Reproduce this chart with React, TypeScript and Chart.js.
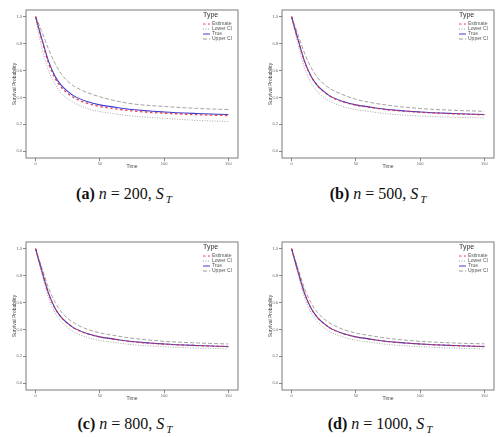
import { useEffect, useRef } from "react"
import { Chart, registerables } from "chart.js"

Chart.register(...registerables)

// time grid the curves were read at
const timePoints = [0, 2, 5, 10, 15, 20, 25, 30, 40, 50, 60, 75, 100, 125, 150]
const xTicks = [0, 50, 100, 150]
const yTicks = [0, 0.2, 0.4, 0.6, 0.8, 1.0]

const trueSurv = [1.0, 0.93, 0.83, 0.67, 0.56, 0.49, 0.445, 0.41, 0.37, 0.345, 0.33, 0.31, 0.292, 0.281, 0.273]

// (a) n = 200
const estA = [1.0, 0.925, 0.82, 0.655, 0.545, 0.475, 0.43, 0.397, 0.357, 0.333, 0.318, 0.3, 0.283, 0.272, 0.265]
const lowerA = [1.0, 0.89, 0.76, 0.6, 0.5, 0.43, 0.39, 0.36, 0.318, 0.295, 0.28, 0.262, 0.245, 0.23, 0.221]
const upperA = [1.0, 0.955, 0.885, 0.76, 0.655, 0.575, 0.52, 0.483, 0.437, 0.405, 0.38, 0.353, 0.333, 0.319, 0.31]

// (b) n = 500
const estB = [1.0, 0.928, 0.828, 0.668, 0.558, 0.488, 0.443, 0.408, 0.368, 0.343, 0.328, 0.308, 0.29, 0.279, 0.272]
const lowerB = [1.0, 0.91, 0.79, 0.62, 0.51, 0.445, 0.4, 0.37, 0.332, 0.31, 0.296, 0.278, 0.262, 0.253, 0.248]
const upperB = [1.0, 0.945, 0.865, 0.73, 0.625, 0.55, 0.5, 0.465, 0.42, 0.386, 0.365, 0.342, 0.318, 0.305, 0.297]

// (c) n = 800
const estC = [1.0, 0.929, 0.829, 0.668, 0.558, 0.489, 0.444, 0.409, 0.369, 0.344, 0.329, 0.309, 0.291, 0.28, 0.273]
const lowerC = [1.0, 0.918, 0.805, 0.635, 0.525, 0.458, 0.413, 0.38, 0.342, 0.318, 0.305, 0.287, 0.272, 0.262, 0.256]
const upperC = [1.0, 0.94, 0.855, 0.71, 0.605, 0.53, 0.482, 0.448, 0.402, 0.375, 0.357, 0.335, 0.312, 0.3, 0.292]

// (d) n = 1000
const estD = [1.0, 0.93, 0.83, 0.67, 0.56, 0.49, 0.445, 0.41, 0.37, 0.345, 0.33, 0.31, 0.292, 0.281, 0.273]
const lowerD = [1.0, 0.92, 0.808, 0.638, 0.528, 0.46, 0.415, 0.382, 0.344, 0.32, 0.306, 0.288, 0.272, 0.262, 0.255]
const upperD = [1.0, 0.94, 0.853, 0.705, 0.6, 0.527, 0.48, 0.446, 0.4, 0.373, 0.356, 0.334, 0.312, 0.3, 0.293]

const legendTitle = "Type"
const font = "'Liberation Sans', Arial, sans-serif"

const toPoints = (ys: number[]) => timePoints.map((t, i) => ({ x: t, y: ys[i] }))

// grey panel border drawn over the lines
const boxPlugin = {
  id: "panelBox",
  afterDatasetsDraw(chart: any) {
    const { ctx, chartArea } = chart
    ctx.save()
    ctx.strokeStyle = "#7a7a7a"
    ctx.lineWidth = 1
    ctx.strokeRect(chartArea.left, chartArea.top, chartArea.right - chartArea.left, chartArea.bottom - chartArea.top)
    ctx.restore()
  },
}

// ggplot style legend sitting inside the top right of the panel
const typeLegend = {
  id: "typeLegend",
  afterDraw(chart: any) {
    const { ctx, chartArea } = chart
    const x0 = chartArea.right - 35
    const y0 = chartArea.top + 5
    ctx.save()
    ctx.textBaseline = "middle"
    ctx.fillStyle = "#333"
    ctx.font = `7px ${font}`
    ctx.fillText(legendTitle, x0, y0)
    ctx.font = `5px ${font}`
    const items = [...chart.data.datasets].sort((a: any, b: any) => a.legendIndex - b.legendIndex)
    items.forEach((ds: any, i: number) => {
      const y = y0 + 9 + i * 5
      ctx.strokeStyle = ds.borderColor
      ctx.lineWidth = 1
      ctx.setLineDash(ds.borderDash || [])
      ctx.beginPath()
      ctx.moveTo(x0, y)
      ctx.lineTo(x0 + 7, y)
      ctx.stroke()
      ctx.setLineDash([])
      ctx.fillStyle = "#555"
      ctx.fillText(ds.label, x0 + 9, y)
    })
    ctx.restore()
  },
}

type PanelProps = {
  left: number
  top: number
  width: number
  padRight: number
  est: number[]
  lower: number[]
  upper: number[]
}

function SurvivalPanel({ left, top, width, padRight, est, lower, upper }: PanelProps) {
  const canvasRef = useRef<HTMLCanvasElement>(null)
  const chartRef = useRef<Chart | null>(null)

  useEffect(() => {
    if (!canvasRef.current) return
    if (chartRef.current) chartRef.current.destroy()

    chartRef.current = new Chart(canvasRef.current, {
      type: "line",
      data: {
        datasets: [
          {
            label: "Estimate",
            data: toPoints(est),
            borderColor: "rgba(225, 40, 50, 0.85)",
            borderWidth: 1.3,
            borderDash: [2.5, 2.5],
            order: 0,
            legendIndex: 0,
          },
          {
            label: "Lower CI",
            data: toPoints(lower),
            borderColor: "#a0a0a0",
            borderWidth: 0.9,
            borderDash: [1, 1.5],
            order: 3,
            legendIndex: 1,
          },
          {
            label: "True",
            data: toPoints(trueSurv),
            borderColor: "#3b3bd0",
            borderWidth: 1.1,
            order: 1,
            legendIndex: 2,
          },
          {
            label: "Upper CI",
            data: toPoints(upper),
            borderColor: "#999999",
            borderWidth: 0.9,
            borderDash: [4, 2],
            order: 2,
            legendIndex: 3,
          },
        ] as any,
      },
      options: {
        animation: false,
        responsive: false,
        maintainAspectRatio: false,
        layout: { padding: { left: 0, top: 10, right: padRight, bottom: 0 } },
        elements: {
          point: { radius: 0 },
          line: { cubicInterpolationMode: "monotone", fill: false },
        },
        plugins: {
          legend: { display: false },
          tooltip: { enabled: false },
        },
        scales: {
          x: {
            type: "linear",
            min: -7.5,
            max: 157.5,
            afterBuildTicks: (scale: any) => {
              scale.ticks = xTicks.map((v) => ({ value: v }))
            },
            afterFit: (scale: any) => {
              scale.height = 17
            },
            grid: { drawOnChartArea: false, tickLength: 3, color: "#666", lineWidth: 0.8 },
            border: { display: false },
            ticks: {
              padding: 0,
              maxRotation: 0,
              color: "#666",
              font: { size: 4, family: font },
              callback: (v: any) => String(v),
            },
            title: {
              display: true,
              text: "Time",
              color: "#444",
              padding: { top: 0, bottom: 5 },
              font: { size: 5, family: font },
            },
          },
          y: {
            type: "linear",
            min: -0.05,
            max: 1.05,
            afterBuildTicks: (scale: any) => {
              scale.ticks = yTicks.map((v) => ({ value: v }))
            },
            afterFit: (scale: any) => {
              scale.width = 26
            },
            grid: { drawOnChartArea: false, tickLength: 3, color: "#666", lineWidth: 0.8 },
            border: { display: false },
            ticks: {
              padding: 1,
              color: "#666",
              font: { size: 4, family: font },
              callback: (v: any) => Number(v).toFixed(1),
            },
            title: {
              display: true,
              text: "Survival Probability",
              color: "#444",
              padding: { top: 12, bottom: 0 },
              font: { size: 5, family: font },
            },
          },
        },
      },
      plugins: [boxPlugin, typeLegend],
    })

    return () => {
      if (chartRef.current) {
        chartRef.current.destroy()
        chartRef.current = null
      }
    }
  }, [])

  return (
    <div style={{ position: "absolute", left, top, width, height: 175 }}>
      <canvas ref={canvasRef} width={width} height={175} style={{ width, height: 175 }} />
    </div>
  )
}

function Caption({ x, y, tag, n }: { x: number; y: number; tag: string; n: number }) {
  return (
    <div
      style={{
        position: "absolute",
        left: x - 80,
        top: y - 10,
        width: 160,
        textAlign: "center",
        fontFamily: "'Liberation Serif', 'Times New Roman', serif",
        fontSize: 16,
        lineHeight: "20px",
        color: "#111",
        whiteSpace: "nowrap",
      }}
    >
      <b>({tag})</b> <i>n</i> = {n}, <i>S</i>
      <sub style={{ fontSize: 11, marginLeft: 2 }}>
        <i>T</i>
      </sub>
    </div>
  )
}

export default function App() {
  return (
    <div style={{ position: "absolute", left: 0, top: 0, width: 500, height: 437, background: "#fff", overflow: "hidden" }}>
      <SurvivalPanel left={0} top={0} width={250} padRight={12} est={estA} lower={lowerA} upper={upperA} />
      <SurvivalPanel left={256} top={0} width={244} padRight={6} est={estB} lower={lowerB} upper={upperB} />
      <SurvivalPanel left={0} top={232} width={250} padRight={12} est={estC} lower={lowerC} upper={upperC} />
      <SurvivalPanel left={256} top={232} width={244} padRight={6} est={estD} lower={lowerD} upper={upperD} />
      <Caption x={124} y={194} tag="a" n={200} />
      <Caption x={378} y={194} tag="b" n={500} />
      <Caption x={125} y={424} tag="c" n={800} />
      <Caption x={380} y={424} tag="d" n={1000} />
    </div>
  )
}
